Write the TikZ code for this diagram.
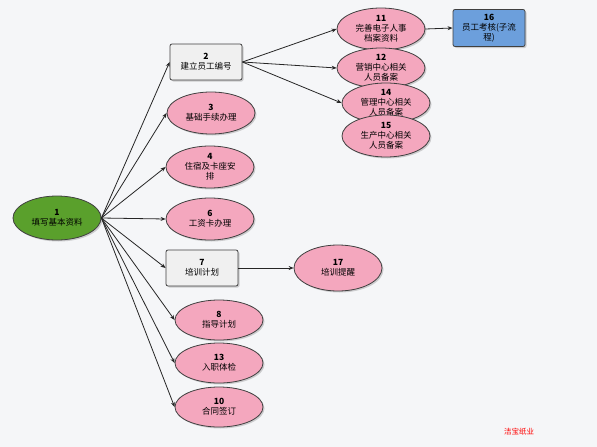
\documentclass[tikz,border=0pt]{standalone}
\usepackage{fontspec}
\setmainfont{Noto Sans CJK SC}
\usepackage{xcolor}
\usepackage{tikz}
\usetikzlibrary{positioning,arrows.meta,shapes.geometric,shadows}

\definecolor{bgpaper}{HTML}{F5F6F8}
\definecolor{startgreen}{HTML}{5AA02C}
\definecolor{taskpink}{HTML}{F4A7BE}
\definecolor{boxgray}{HTML}{F0F0F0}
\definecolor{subblue}{HTML}{6C9FDC}

\begin{document}
\begin{tikzpicture}[x=1pt, y=-1pt,
    start/.style={ellipse, draw=black!75, fill=startgreen, thick, align=center,
                  minimum width=88pt, minimum height=44pt, inner sep=0pt,
                  font=\fontsize{8.5}{10}\selectfont,
                  drop shadow={shadow xshift=1.5pt, shadow yshift=-1.5pt, opacity=0.35}},
    task/.style={ellipse, draw=black!75, fill=taskpink, thick, align=center,
                 minimum width=88pt, minimum height=42pt, inner sep=0pt,
                 font=\fontsize{8.5}{10}\selectfont,
                 drop shadow={shadow xshift=1.5pt, shadow yshift=-1.5pt, opacity=0.35}},
    box/.style={rectangle, rounded corners=2pt, draw=black!75, fill=boxgray, thick, align=center,
                minimum width=72pt, minimum height=36pt, inner sep=1pt,
                font=\fontsize{8.5}{10}\selectfont,
                drop shadow={shadow xshift=1.5pt, shadow yshift=-1.5pt, opacity=0.35}},
    subflow/.style={box, fill=subblue},
    arrow/.style={-{Stealth[length=5pt, width=4pt]}, thick, draw=black!85}
]

% Canvas
\fill[bgpaper] (0,0) rectangle (597,447);
\useasboundingbox (0,0) rectangle (597,447);

% Start
\node[start] (n1) at (57,218) {\textbf{1}\\填写基本资料};

% Left column of steps
\node[box] (n2) at (206,62) {\textbf{2}\\建立员工编号};
\node[task] (n3) at (211,113) {\textbf{3}\\基础手续办理};
\node[task] (n4) at (210,167) {\textbf{4}\\住宿及卡座安\\排};
\node[task] (n6) at (210,219) {\textbf{6}\\工资卡办理};
\node[box] (n7) at (202,268) {\textbf{7}\\培训计划};
\node[task, minimum height=40pt] (n8) at (219,320) {\textbf{8}\\指导计划};
\node[task, minimum height=40pt] (n13) at (219,363) {\textbf{13}\\入职体检};
\node[task, minimum height=40pt] (n10) at (219,407) {\textbf{10}\\合同签订};

% Right column (records)
\node[task] (n11) at (381,29) {\textbf{11}\\完善电子人事\\档案资料};
\node[task, minimum height=40pt] (n12) at (381,68) {\textbf{12}\\营销中心相关\\人员备案};
\node[task, minimum height=40pt] (n14) at (386,103) {\textbf{14}\\管理中心相关\\人员备案};
\node[task] (n15) at (386,136) {\textbf{15}\\生产中心相关\\人员备案};
\node[subflow, minimum height=37pt] (n16) at (489,28) {\textbf{16}\\员工考核(子流\\程)};
\node[task, minimum height=46pt] (n17) at (338,268) {\textbf{17}\\培训提醒};

% Arrows from the start
\foreach \t in {n2,n3,n4,n6,n7,n8,n13,n10}
    \draw[arrow] (n1.east) -- (\t.west);

% Arrows from employee number
\foreach \t in {n11,n12,n14}
    \draw[arrow] (n2.east) -- (\t.west);

\draw[arrow] (n11.east) -- (n16.west);
\draw[arrow] (n7.east) -- (n17.west);

% Watermark
\node[text=red, font=\fontsize{7.5}{9}\selectfont] (mark) at (519,432) {洁宝纸业};

\end{tikzpicture}
\end{document}
